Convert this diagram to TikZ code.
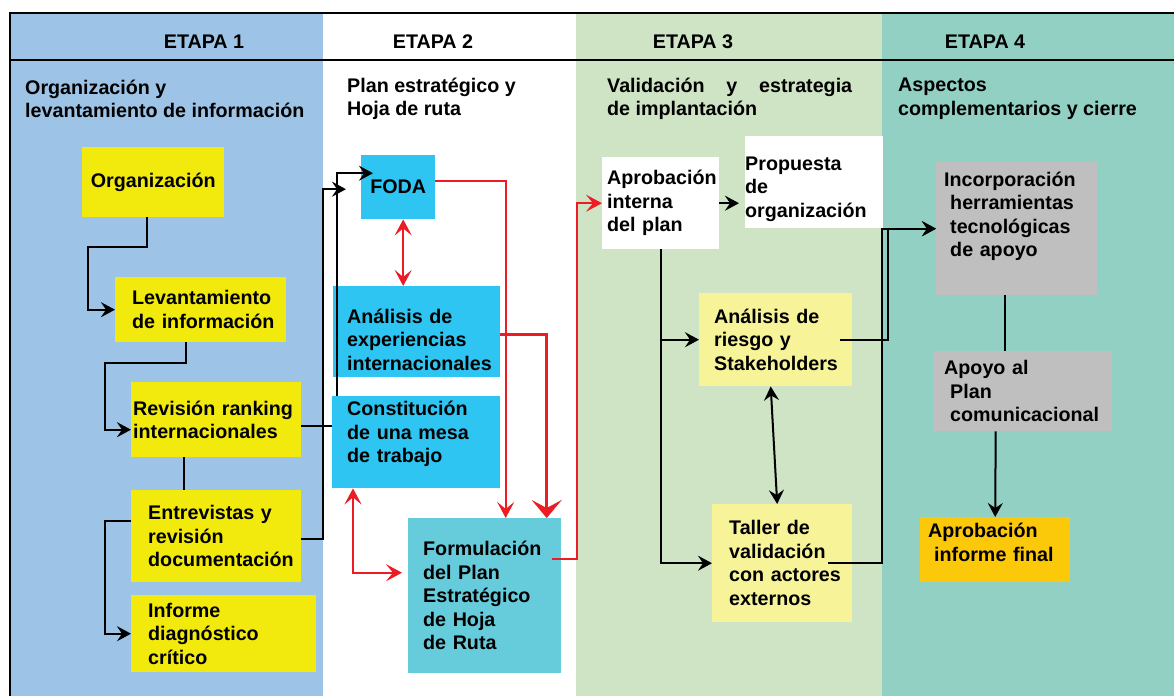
\documentclass[tikz,border=0pt]{standalone}
\usepackage{fontspec}
\setmainfont{Liberation Sans}
\usetikzlibrary{arrows.meta}
\definecolor{azulA}{RGB}{157,195,230}
\definecolor{verdeC}{RGB}{206,228,197}
\definecolor{verdeD}{RGB}{146,208,196}
\definecolor{amarillo}{RGB}{242,234,12}
\definecolor{celeste}{RGB}{46,197,243}
\definecolor{turquesa}{RGB}{102,204,220}
\definecolor{pajizo}{RGB}{247,243,153}
\definecolor{gris}{RGB}{191,191,191}
\definecolor{naranjo}{RGB}{252,200,10}
\definecolor{rojoL}{RGB}{237,28,36}
\hyphenpenalty=10000

\begin{document}
\begin{tikzpicture}[x=1pt,y=-1pt,
    font=\bfseries\fontsize{19.7}{23.5}\selectfont,
    caja/.style={anchor=north west,inner ysep=0pt,align=left},
    linea/.style={line width=2pt},
    flecha/.style={linea,-{Stealth[length=14pt,width=15pt,inset=5pt]}},
    doble/.style={linea,{Stealth[length=14pt,width=15pt,inset=5pt]}-{Stealth[length=14pt,width=15pt,inset=5pt]}},
    rojo/.style={draw=rojoL,line width=2pt},
    rflecha/.style={rojo,-{Stealth[length=16pt,width=17pt,inset=7pt]}},
    rdoble/.style={rojo,{Stealth[length=16pt,width=17pt,inset=7pt]}-{Stealth[length=16pt,width=17pt,inset=7pt]}},
    rgrueso/.style={rojo,line width=3pt,-{Stealth[length=18pt,width=30pt,inset=8pt]}}]
  \useasboundingbox (0,0) rectangle (1174,696);
  \fill[white] (0,0) rectangle (1174,696);
  \foreach \xa/\xb/\col in {10/323/azulA,576/882/verdeC,882/1174/verdeD} {
    \fill[\col] (\xa,13) rectangle (\xb,696);
  }
  \draw[linea] (1174,13) -- (10,13) -- (10,696);
  \draw[linea] (10,60) -- (1174,60);
  \foreach \x/\n in {204/1,433/2,693/3,985/4} {
    \node (etapa\n) at (\x,42) {ETAPA \n};
  }
  \node[anchor=west,inner sep=0pt,align=left] (sub1) at (25,99) {Organización y\\levantamiento de información};
  \node[anchor=west,inner sep=0pt,align=left] (sub2) at (347,99) {Plan estratégico y\\Hoja de ruta};
  \node[anchor=west,inner sep=0pt,align=left] (sub3) at (607,99) {\makebox[245pt][s]{Validación y estrategia}\\de implantación};
  \node[anchor=west,inner sep=0pt,align=left] (sub4) at (898,99) {Aspectos\\complementarios y cierre};

  % etapa 1
  \node[caja,fill=amarillo,align=center,inner xsep=0pt,minimum width=142pt,minimum height=70pt,text width=142pt] (org) at (82,147) {Organización};
  \node[caja,fill=amarillo,minimum width=171pt,minimum height=65pt,inner xsep=17pt,text width=137pt] (lev) at (115,277) {Levantamiento\\de~información};
  \node[caja,fill=amarillo,minimum width=170pt,minimum height=75pt,inner xsep=2pt,text width=166pt] (rev) at (131,382) {\makebox[166pt][s]{Revisión ranking}\\internacionales};
  \node[caja,fill=amarillo,minimum width=170pt,minimum height=92pt,inner xsep=17pt,text width=136pt] (ent) at (131,490) {Entrevistas y\\revisión\\documentación};
  \node[caja,fill=amarillo,minimum width=185pt,minimum height=77pt,inner xsep=17pt,text width=151pt] (inf) at (131,595) {Informe\\diagnóstico\\crítico};

  \draw[flecha] ([xshift=-6]org.south) -- ++(0,30) -| ([xshift=-27]lev.west) -- (lev.west);
  \draw[flecha] ([xshift=-15]lev.south) -- ++(0,21) -| ([xshift=-26,yshift=-10]rev.west) -- ([yshift=-10]rev.west);
  \draw[linea] ([xshift=-32]rev.south) -- ([xshift=-32]ent.north);
  \draw[flecha] ([yshift=15]ent.west) -- ++(-26,0) |- (inf.west);

  % etapa 2
  \node[caja,fill=celeste,align=center,inner xsep=0pt,minimum width=74pt,minimum height=64pt,text width=74pt] (foda) at (361,155) {FODA};
  \node[caja,fill=celeste,minimum width=167pt,minimum height=91pt,inner xsep=14pt,text width=139pt,text height=30pt] (aexp) at (333,286) {Análisis de\\experiencias\\internacionales};
  \draw[flecha] ([yshift=-6]rev.east) -- ++(36,0) |- ([xshift=12,yshift=14]foda.west);
  \node[caja,fill=celeste,minimum width=168pt,minimum height=92pt,inner xsep=15pt,text width=138pt,text depth=67pt] (mesa) at (332,396) {Constitución\\de una mesa\\de trabajo};
  \draw[flecha] ([yshift=-3]ent.east) -- ++(22,0) |- ([xshift=-15,yshift=-2]foda.west);
  \node[caja,fill=turquesa,minimum width=153pt,minimum height=155pt,inner xsep=15pt,text width=123pt] (form) at (408,518) {Formulación\\del Plan\\Estratégico\\de Hoja\\de Ruta};

  \draw[rdoble] ([xshift=5]foda.south) -- ([xshift=5]foda.south |- aexp.north);
  \draw[rflecha] ([yshift=6]foda.east) -| ([xshift=21]form.north);
  \draw[rgrueso] ([yshift=-3]aexp.east) -| ([xshift=62]form.north);
  \draw[rdoble] ([xshift=21]mesa.south west) |- ([xshift=-6,yshift=23]form.west);

  % etapa 3
  \node[caja,fill=white,minimum width=117pt,minimum height=92pt,inner xsep=5pt,text width=107pt] (apint) at (602,157) {Aprobación\\interna\\del plan};
  \node[caja,fill=white,minimum width=138pt,minimum height=92pt,inner xsep=0pt,text width=138pt,text height=27pt] (prop) at (745,136) {Propuesta\\de\\organización};
  \node[caja,fill=pajizo,minimum width=153pt,minimum height=93pt,inner xsep=15pt,text width=123pt] (riesgo) at (699,293) {Análisis de\\riesgo y\\Stakeholders};
  \node[caja,fill=pajizo,minimum width=140pt,minimum height=118pt,inner xsep=17pt,text width=106pt] (taller) at (712,504) {Taller de\\validación\\con~actores\\externos};

  \draw[rflecha] ([xshift=-9,yshift=37]form.east) -- ++(25,0) |- (apint.west);
  \draw[flecha] (apint.east) -- ([xshift=-6]prop.west |- apint.east);
  \draw[flecha] (apint.south) |- (taller.west);
  \draw[flecha] (apint.south |- riesgo.west) -- (riesgo.west);
  \draw[doble] ([xshift=-5]riesgo.south) -- ([xshift=-5]taller.north);

  % etapa 4
  \node[caja,fill=gris,minimum width=161pt,minimum height=133pt,inner xsep=8pt,text width=145pt,text depth=99pt] (inc) at (936,162) {Incorporación\\\hspace*{6pt}herramientas\\\hspace*{6pt}tecnológicas\\\hspace*{6pt}de apoyo};
  \node[caja,fill=gris,minimum width=179pt,minimum height=80pt,inner xsep=11pt,text width=157pt] (apoyo) at (933,351) {Apoyo al\\\hspace*{6pt}Plan\\\hspace*{6pt}comunicacional};
  \node[caja,fill=naranjo,minimum width=150pt,minimum height=65pt,inner xsep=8pt,text width=134pt,text depth=38pt] (final) at (920,517) {Aprobación\\\hspace*{6pt}informe final};

  \draw[flecha] ([xshift=-12]riesgo.east) -- ++(48,0) |- (inc.west);
  \draw[flecha] ([xshift=-24]taller.east) -- ++(54,0) |- (inc.west);
  \draw[linea] ([xshift=-12]inc.south) -- ([xshift=-12]inc.south |- apoyo.north);
  \draw[flecha] ([xshift=-27]apoyo.south) -- (final.north);
\end{tikzpicture}
\end{document}
